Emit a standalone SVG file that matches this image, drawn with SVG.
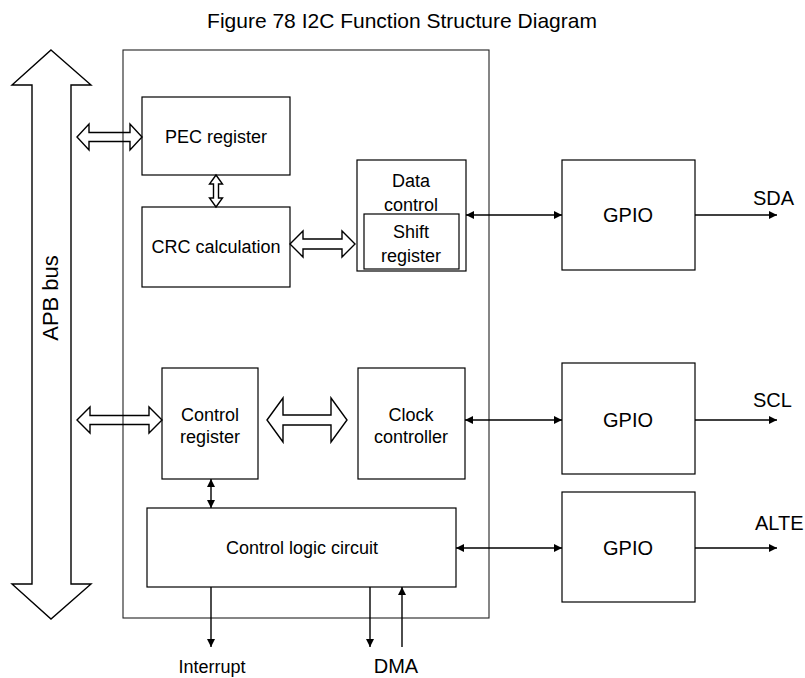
<svg xmlns="http://www.w3.org/2000/svg" width="805" height="678" viewBox="0 0 805 678">
<style>
.box{fill:#fff;stroke:#000;stroke-width:1.2}
.frame{fill:none;stroke:#222;stroke-width:1.1}
.hollow{fill:none;stroke:#000;stroke-width:1.4;stroke-linejoin:miter}
.ln{stroke:#000;stroke-width:1.4;fill:none}
.t{font-family:"Liberation Sans",Arial,sans-serif;font-size:18px;fill:#000;text-anchor:middle}
.t20{font-family:"Liberation Sans",Arial,sans-serif;font-size:20px;fill:#000}
</style>
<defs>
<marker id="ah" viewBox="0 0 10 10" refX="10" refY="5" markerWidth="8" markerHeight="10" markerUnits="userSpaceOnUse" orient="auto-start-reverse">
<path d="M0,0 L10,5 L0,10 z" fill="#000"/>
</marker>
</defs>
<text x="402" y="28" class="t" style="font-size:21px">Figure 78 I2C Function Structure Diagram</text>
<g id="apb-bus">
<polygon class="hollow" points="51,50 91,85 71,85 71,584 91,584 51,619 12,584 32,584 32,85 12,85"/>
<text class="t" style="font-size:22px" transform="translate(58,298) rotate(-90)">APB bus</text>
</g>
<g id="i2c-frame"><rect class="frame" x="123" y="50" width="366" height="568"/></g>
<g id="pec"><rect class="box" x="142" y="97" width="148" height="78"/><text class="t" x="216" y="143">PEC register</text></g>
<g id="crc"><rect class="box" x="142" y="207" width="148" height="80"/><text class="t" x="216" y="253">CRC calculation</text></g>
<g id="data-control"><rect class="box" x="357" y="160" width="109" height="111"/><text class="t" x="411" y="187">Data</text><text class="t" x="411" y="211">control</text>
<rect class="box" x="364" y="214" width="95" height="55"/><text class="t" x="411" y="238">Shift</text><text class="t" x="411" y="262">register</text></g>
<g id="control-register"><rect class="box" x="162" y="368" width="96" height="111"/><text class="t" x="210" y="421">Control</text><text class="t" x="210" y="443">register</text></g>
<g id="clock-controller"><rect class="box" x="358" y="368" width="107" height="111"/><text class="t" x="411" y="421">Clock</text><text class="t" x="411" y="443">controller</text></g>
<g id="control-logic"><rect class="box" x="147" y="508" width="309" height="79"/><text class="t" x="302" y="554">Control logic circuit</text></g>
<g id="gpio1"><rect class="box" x="562" y="160" width="133" height="110"/><text class="t20" x="628" y="222" text-anchor="middle">GPIO</text></g>
<g id="gpio2"><rect class="box" x="562" y="363" width="133" height="111"/><text class="t20" x="628" y="427" text-anchor="middle">GPIO</text></g>
<g id="gpio3"><rect class="box" x="562" y="492" width="133" height="110"/><text class="t20" x="628" y="555" text-anchor="middle">GPIO</text></g>
<g id="connectors">
<polygon class="hollow" points="77,137 89,124 89,132.5 130,132.5 130,124 142,137 130,150 130,141.5 89,141.5 89,150"/>
<polygon class="hollow" points="216,175 222.5,184 218.5,184 218.5,198 222.5,198 216,207 209.5,198 213.5,198 213.5,184 209.5,184"/>
<polygon class="hollow" points="290,244 303,231 303,239 342,239 342,231 355,244 342,257 342,249 303,249 303,257"/>
<polygon class="hollow" points="77,420 90,407 90,415.5 149,415.5 149,407 162,420 149,433 149,424.5 90,424.5 90,433"/>
<polygon class="hollow" points="267,420 283,398 283,415 331,415 331,398 347,420 331,442 331,425 283,425 283,442"/>
<line class="ln" x1="466" y1="215" x2="562" y2="215" marker-start="url(#ah)" marker-end="url(#ah)"/>
<line class="ln" x1="465" y1="420" x2="562" y2="420" marker-start="url(#ah)" marker-end="url(#ah)"/>
<line class="ln" x1="456" y1="548" x2="562" y2="548" marker-start="url(#ah)" marker-end="url(#ah)"/>
<line class="ln" x1="211" y1="479" x2="211" y2="508" marker-start="url(#ah)" marker-end="url(#ah)"/>
<line class="ln" x1="695" y1="215" x2="777" y2="215" marker-end="url(#ah)"/>
<line class="ln" x1="695" y1="420" x2="777" y2="420" marker-end="url(#ah)"/>
<line class="ln" x1="695" y1="548" x2="777" y2="548" marker-end="url(#ah)"/>
<line class="ln" x1="211" y1="587" x2="211" y2="647" marker-end="url(#ah)"/>
<line class="ln" x1="370" y1="587" x2="370" y2="647" marker-end="url(#ah)"/>
<line class="ln" x1="402" y1="647" x2="402" y2="587" marker-end="url(#ah)"/>
</g>
<text class="t20" x="753" y="205">SDA</text>
<text class="t20" x="753" y="407">SCL</text>
<text class="t20" x="755" y="530">ALTE</text>
<text class="t" x="212" y="673">Interrupt</text>
<text class="t20" x="396" y="673" text-anchor="middle">DMA</text>
</svg>
